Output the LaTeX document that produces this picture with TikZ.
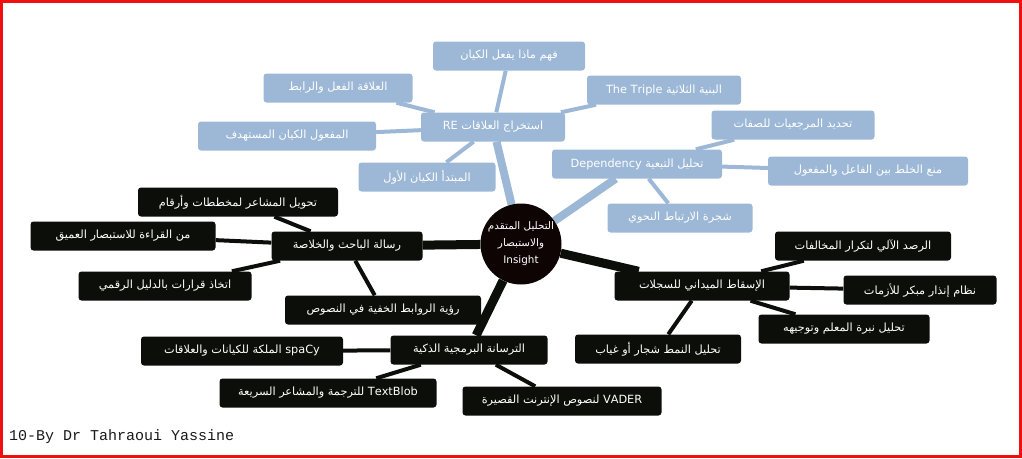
\documentclass[tikz,border=0pt]{standalone}
\usepackage{fontspec}
\TeXXeTstate=1
\newfontfamily\arfont[Script=Arabic]{DejaVu Sans}
\newfontfamily\authfont{Liberation Mono}
\newcommand\artxt[1]{\beginR #1\endR}
\definecolor{bfill}{HTML}{9CB8D6}
\definecolor{dfill}{HTML}{0C0E09}
\definecolor{cfill}{HTML}{0E0404}
\definecolor{framered}{HTML}{F01010}
\pgfdeclarelayer{edges}
\pgfsetlayers{edges,main}
\tikzset{
  boxbase/.style={rounded corners=3pt, minimum height=29pt, inner sep=0pt, text=white,
    font=\arfont\fontsize{11.3}{13}\selectfont},
  bnode/.style={boxbase, fill=bfill},
  dnode/.style={boxbase, fill=dfill},
  bline/.style={draw=bfill, line width=4pt},
  dline/.style={draw=dfill, line width=4pt},
  bmain/.style={draw=bfill, line width=8pt},
  dmain/.style={draw=dfill, line width=9pt},
}
\begin{document}
\begin{tikzpicture}[x=1pt,y=-1pt]
\useasboundingbox (0,0) rectangle (1022,458);
\draw[framered, line width=3pt] (1.5,1.5) rectangle (1020,456);

% center
\node[circle, fill=cfill, minimum size=81pt, inner sep=0pt, text=white, align=center,
  font=\arfont\fontsize{10.4}{17}\selectfont] (c) at (521,244)
  {\artxt{التحليل المتقدم}\\\artxt{والاستبصار}\\Insight};

% blue branch RE
\node[bnode, minimum width=144pt] (re) at (493,127) {\artxt{استخراج العلاقات \beginL RE\endL}};
\node[bnode, minimum width=152pt] (re1) at (509,56) {\artxt{فهم ماذا يفعل الكيان}};
\node[bnode, minimum width=154pt] (re2) at (664,90) {\artxt{البنية الثلاثية \beginL The Triple\endL}};
\node[bnode, minimum width=149pt] (re3) at (338,88) {\artxt{العلاقة الفعل والرابط}};
\node[bnode, minimum width=178pt] (re4) at (287,136) {\artxt{المفعول الكيان المستهدف}};
\node[bnode, minimum width=137pt] (re5) at (427,177) {\artxt{المبتدأ الكيان الأول}};

% blue branch Dependency
\node[bnode, minimum width=170pt] (dp) at (637,164) {\artxt{تحليل التبعية \beginL Dependency\endL}};
\node[bnode, minimum width=163pt] (dp1) at (793,125) {\artxt{تحديد المرجعيات للصفات}};
\node[bnode, minimum width=200pt] (dp2) at (868,171) {\artxt{منع الخلط بين الفاعل والمفعول}};
\node[bnode, minimum width=145pt] (dp3) at (680,218) {\artxt{شجرة الارتباط النحوي}};

% dark branch researcher
\node[dnode, minimum width=151pt] (rs) at (347,246) {\artxt{رسالة الباحث والخلاصة}};
\node[dnode, minimum width=200pt] (rs1) at (238,202) {\artxt{تحويل المشاعر لمخططات وأرقام}};
\node[dnode, minimum width=185pt] (rs2) at (123,236) {\artxt{من القراءة للاستبصار العميق}};
\node[dnode, minimum width=173pt] (rs3) at (165,286) {\artxt{اتخاذ قرارات بالدليل الرقمي}};
\node[dnode, minimum width=196pt] (rs4) at (383,310) {\artxt{رؤية الروابط الخفية في النصوص}};

% dark branch field
\node[dnode, minimum width=175pt] (fd) at (702,286) {\artxt{الإسقاط الميداني للسجلات}};
\node[dnode, minimum width=176pt] (fd1) at (863,246) {\artxt{الرصد الآلي لتكرار المخالفات}};
\node[dnode, minimum width=153pt] (fd2) at (920,290) {\artxt{نظام إنذار مبكر للأزمات}};
\node[dnode, minimum width=171pt] (fd3) at (844,329) {\artxt{تحليل نبرة المعلم وتوجيهه}};
\node[dnode, minimum width=166pt] (fd4) at (658,349) {\artxt{تحليل النمط شجار أو غياب}};

% dark branch tools
\node[dnode, minimum width=157pt] (tl) at (469,350) {\artxt{الترسانة البرمجية الذكية}};
\node[dnode, minimum width=202pt] (tl1) at (242,351) {\artxt{\beginL spaCy\endL{} الملكة للكيانات والعلاقات}};
\node[dnode, minimum width=217pt] (tl2) at (328,393) {\artxt{\beginL TextBlob\endL{} للترجمة والمشاعر السريعة}};
\node[dnode, minimum width=199pt] (tl3) at (562,401) {\artxt{\beginL VADER\endL{} لنصوص الإنترنت القصيرة}};

% author
\node[anchor=base west, inner sep=0pt, font=\authfont\fontsize{15}{17}\selectfont, text=black!90] (auth) at (9,440) {10-By Dr Tahraoui Yassine};

\begin{pgfonlayer}{edges}
\draw[bmain] (c) -- (re);
\draw[bmain] (c) -- (dp);
\draw[dmain] (c) -- (rs);
\draw[dmain] (c) -- (fd);
\draw[dmain] (c) -- (tl);
\foreach \t in {re1,re2,re3,re4,re5} \draw[bline] (re) -- (\t);
\foreach \t in {dp1,dp2,dp3} \draw[bline] (dp) -- (\t);
\foreach \t in {rs1,rs2,rs3,rs4} \draw[dline] (rs) -- (\t);
\foreach \t in {fd1,fd2,fd3,fd4} \draw[dline] (fd) -- (\t);
\foreach \t in {tl1,tl2,tl3} \draw[dline] (tl) -- (\t);
\end{pgfonlayer}
\end{tikzpicture}
\end{document}
